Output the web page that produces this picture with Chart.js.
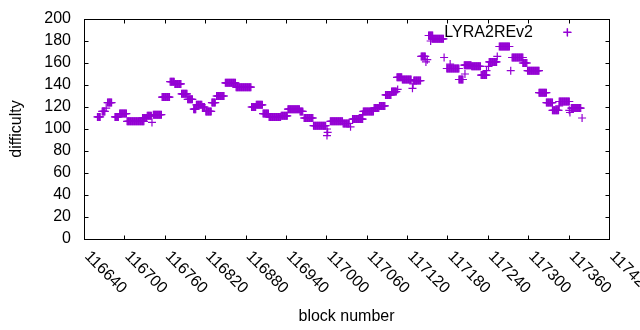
<!DOCTYPE html>
<html>
<head>
<meta charset="utf-8">
<script src="https://cdn.jsdelivr.net/npm/chart.js@4.4.1/dist/chart.umd.min.js"></script>
<style>
  html, body { margin: 0; padding: 0; background: #fff; }
  canvas { display: block; }
</style>
</head>
<body>
<canvas id="chart" width="640" height="330"></canvas>
<script>
const runStart = [116660, 116667, 116673, 116675, 116686, 116693, 116704, 116727, 116734, 116741,
                  116743, 116756, 116768, 116775, 116785, 116794, 116803, 116807, 116816, 116821,
                  116830, 116837, 116850, 116866, 116889, 116896, 116906, 116915, 116933, 116943,
                  116961, 116967, 116981, 117001, 117002, 117001, 117006, 117025, 117036, 117039,
                  117054, 117055, 117071, 117079, 117088, 117097, 117106, 117105, 117113, 117128,
                  117129, 117130, 117141, 117148, 117150, 117152, 117155, 117157, 117175, 117179,
                  117184, 117185, 117197, 117206, 117205, 117216, 117230, 117238, 117241, 117242,
                  117254, 117257, 117274, 117276, 117292, 117299, 117316, 117327, 117336, 117346,
                  117346, 117358, 117361, 117362, 117364, 117380];
const runEnd   = [116664, 116671, 116673, 116681, 116691, 116703, 116729, 116733, 116740, 116741,
                  116755, 116767, 116774, 116784, 116793, 116801, 116806, 116815, 116819, 116829,
                  116835, 116848, 116865, 116888, 116895, 116905, 116914, 116932, 116942, 116960,
                  116965, 116980, 116999, 117001, 117002, 117001, 117024, 117034, 117036, 117054,
                  117054, 117070, 117078, 117087, 117096, 117104, 117106, 117112, 117126, 117128,
                  117129, 117140, 117147, 117148, 117150, 117158, 117155, 117174, 117175, 117184,
                  117184, 117197, 117203, 117206, 117215, 117229, 117238, 117238, 117241, 117253,
                  117254, 117272, 117274, 117292, 117298, 117316, 117327, 117336, 117345, 117346,
                  117361, 117358, 117361, 117362, 117378, 117380];
const runDiff  = [111, 116, 119, 124, 111, 114, 107, 110, 112, 106,
                  113, 129, 143, 141, 132, 127, 118, 122, 120, 116,
                  124, 130, 142, 138, 120, 122, 114, 111, 112, 118,
                  116, 110, 103, 100, 97, 94, 107, 105, 102, 109,
                  113, 116, 119, 121, 131, 134, 136, 147, 145, 137,
                  141, 144, 166, 161, 163, 185, 180, 182, 165, 155,
                  159, 155, 145, 150, 158, 157, 149, 153, 157, 161,
                  166, 175, 153, 165, 160, 153, 133, 124, 117, 121,
                  125, 188, 117, 115, 119, 110];

const xTicks = [116640, 116700, 116760, 116820, 116880, 116940, 117000,
                117060, 117120, 117180, 117240, 117300, 117360, 117420];
const yTicks = [0, 20, 40, 60, 80, 100, 120, 140, 160, 180, 200];
const seriesName = 'LYRA2REv2';
const xTitle = 'block number';
const yTitle = 'difficulty';

const purple = '#9400d3';
const font = '16px "Liberation Sans", Arial, sans-serif';

function buildPoints() {
    const pts = [];
    runStart.forEach((start, i) => {
        for (let b = start; b <= runEnd[i]; b++) {
            pts.push({ x: b, y: runDiff[i] });
        }
    });
    return pts;
}

function drawCross(ctx, x, y, r) {
    ctx.beginPath();
    ctx.moveTo(x - r, y);
    ctx.lineTo(x + r, y);
    ctx.moveTo(x, y - r);
    ctx.lineTo(x, y + r);
    ctx.stroke();
}

// gnuplot-like frame: box border, inward ticks on all sides, rotated x labels, key
const gnuplotFrame = {
    id: 'gnuplotFrame',
    afterDraw(chart) {
        const ctx = chart.ctx;
        const area = chart.chartArea;
        const xs = chart.scales.x;
        const ys = chart.scales.y;
        const tick = 4;
        const L = Math.round(area.left) + 0.5;
        const R = Math.round(area.right) + 0.5;
        const T = Math.round(area.top) + 0.5;
        const B = Math.round(area.bottom) + 0.5;

        ctx.save();
        ctx.strokeStyle = '#000';
        ctx.lineWidth = 1;
        ctx.strokeRect(L, T, R - L, B - T);

        ctx.beginPath();
        yTicks.forEach(v => {
            const y = Math.round(ys.getPixelForValue(v)) + 0.5;
            ctx.moveTo(L, y); ctx.lineTo(L + tick, y);
            ctx.moveTo(R, y); ctx.lineTo(R - tick, y);
        });
        xTicks.forEach(v => {
            const x = Math.round(xs.getPixelForValue(v)) + 0.5;
            ctx.moveTo(x, B); ctx.lineTo(x, B - tick);
            ctx.moveTo(x, T); ctx.lineTo(x, T + tick);
        });
        ctx.stroke();

        ctx.fillStyle = '#000';
        ctx.font = font;

        // y tick labels
        ctx.textAlign = 'right';
        ctx.textBaseline = 'middle';
        yTicks.forEach(v => {
            ctx.fillText(String(v), 71, ys.getPixelForValue(v));
        });

        // x tick labels, rotated 45 degrees clockwise from the tick
        ctx.textAlign = 'left';
        xTicks.forEach(v => {
            const x = xs.getPixelForValue(v);
            ctx.save();
            ctx.translate(x + 3, 254);
            ctx.rotate(Math.PI / 4);
            ctx.fillText(String(v), 0, 0);
            ctx.restore();
        });

        // axis titles
        ctx.textAlign = 'center';
        ctx.textBaseline = 'alphabetic';
        ctx.fillText(xTitle, (area.left + area.right) / 2, 321);
        ctx.save();
        ctx.translate(21, (area.top + area.bottom) / 2);
        ctx.rotate(-Math.PI / 2);
        ctx.fillText(yTitle, 0, 0);
        ctx.restore();

        // key
        ctx.textAlign = 'right';
        ctx.fillText(seriesName, 533, 37);
        ctx.strokeStyle = purple;
        ctx.lineWidth = 1.2;
        drawCross(ctx, 567.5, 32.5, 4);
        ctx.restore();
    }
};

new Chart(document.getElementById('chart'), {
    type: 'scatter',
    data: {
        datasets: [{
            label: seriesName,
            data: buildPoints(),
            pointStyle: 'cross',
            pointRadius: 4,
            pointHoverRadius: 4,
            pointBorderWidth: 1.2,
            borderColor: purple,
            backgroundColor: purple
        }]
    },
    options: {
        responsive: false,
        animation: false,
        devicePixelRatio: 1,
        layout: {
            padding: { left: 84, right: 31, top: 19, bottom: 91 }
        },
        plugins: {
            legend: { display: false },
            tooltip: { enabled: false }
        },
        scales: {
            x: {
                type: 'linear',
                min: 116640,
                max: 117420,
                display: false
            },
            y: {
                min: 0,
                max: 200,
                display: false
            }
        }
    },
    plugins: [gnuplotFrame]
});
</script>
</body>
</html>
